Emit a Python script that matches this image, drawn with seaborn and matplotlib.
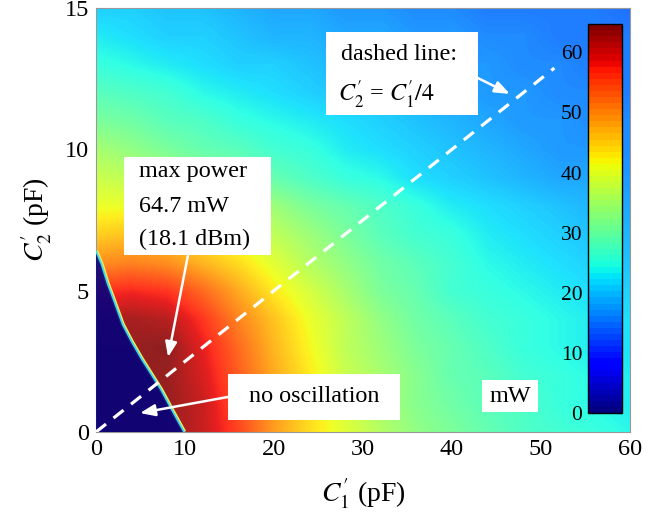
import numpy as np
import pandas as pd
import matplotlib
matplotlib.use("Agg")
import matplotlib.pyplot as plt
from matplotlib.patches import Rectangle
from matplotlib.cm import ScalarMappable
import seaborn as sns

# ---- data -----------------------------------------------------------------
# Grid of capacitances (pF)
c1_pf = [0, 4, 8, 12, 16, 20, 24, 28, 32, 36, 40, 44, 48, 52, 56, 60]
c2_pf = [0, 1, 2, 3, 4, 5, 6, 7, 8, 9, 10, 11, 12, 13, 14, 15]

# Output power (mW), one row per C2' value
p_c2_00 = [64, 64, 64, 61, 56, 49, 44, 40, 36, 33, 31, 29, 27, 26, 25, 24]
p_c2_01 = [64, 64, 64, 61, 55, 49, 44, 39, 35, 32, 30, 28, 27, 25, 24, 23]
p_c2_02 = [64, 64, 64, 60, 54, 48, 43, 38, 35, 32, 29, 28, 26, 25, 24, 23]
p_c2_03 = [64, 64, 64.7, 59, 53, 47, 42, 37, 34, 31, 29, 27, 25, 24, 23, 22]
p_c2_04 = [62, 63, 62, 57, 51, 46, 41, 37, 33, 30, 28, 26, 25, 24, 23, 22]
p_c2_05 = [57, 58, 57, 53, 48, 43, 39, 35, 31, 29, 26, 25, 24, 23, 22, 21]
p_c2_06 = [50, 51, 50, 47, 44, 40, 36, 33, 30, 28, 26, 24, 23, 22, 21, 20]
p_c2_07 = [45, 46, 45, 43, 40, 37, 34, 31, 28, 26, 25, 23, 22, 21, 20, 19]
p_c2_08 = [41, 41, 40, 38, 36, 34, 31, 29, 27, 25, 23, 22, 21, 20, 19, 18]
p_c2_09 = [38, 37, 35, 33, 31, 29, 27, 25, 24, 22, 21, 20, 19, 18, 18, 17]
p_c2_10 = [35, 33, 31, 29, 28, 26, 25, 23, 22, 21, 20, 19, 18, 17, 17, 16]
p_c2_11 = [31, 30, 28, 27, 25, 24, 23, 22, 21, 20, 19, 18, 17, 17, 16, 16]
p_c2_12 = [28, 27, 26, 24, 23, 22, 21, 20, 20, 19, 18, 17, 17, 16, 16, 15]
p_c2_13 = [25, 24, 23, 22, 21, 21, 20, 19, 19, 18, 17, 17, 16, 16, 15, 15]
p_c2_14 = [23, 22, 21, 21, 20, 19, 19, 18, 18, 17, 17, 16, 16, 15, 15, 15]
p_c2_15 = [21, 21, 20, 20, 19, 18, 18, 17, 17, 16, 16, 15, 15, 15, 15, 14]

# Edge of the region where the circuit does not oscillate
edge_c1 = [0, 0.6, 1.3, 1.9, 3.0, 4.0, 5.1, 6.2, 7.3, 8.5, 9.9]
edge_c2 = [6.4, 5.95, 5.25, 4.75, 3.8, 3.2, 2.6, 2.05, 1.5, 0.8, 0]

# Dashed reference line C2' = C1'/4
dash_c1 = [0, 51.5]
dash_c2 = [c / 4 for c in dash_c1]

peak_mw = 64.7
cbar_ticks = [0, 10, 20, 30, 40, 50, 60]
x_ticks = [0, 10, 20, 30, 40, 50, 60]
y_ticks = [0, 5, 10, 15]

rows = [p_c2_00, p_c2_01, p_c2_02, p_c2_03, p_c2_04, p_c2_05, p_c2_06, p_c2_07,
        p_c2_08, p_c2_09, p_c2_10, p_c2_11, p_c2_12, p_c2_13, p_c2_14, p_c2_15]
power = pd.DataFrame(rows, index=c2_pf, columns=c1_pf)

# ---- style ----------------------------------------------------------------
sns.set_style("white")
plt.rcParams["font.family"] = ["Liberation Serif", "DejaVu Serif"]
plt.rcParams["mathtext.fontset"] = "stix"
plt.rcParams["text.color"] = "black"

jet = plt.get_cmap("jet")
jet64 = jet.resampled(64)
vmax = float(power.values.max())
norm = plt.Normalize(0, vmax)
shade = 0.88  # mesh drawn slightly translucent over white

fig = plt.figure(figsize=(6.6, 5.12), dpi=100)
ax = fig.add_axes([96 / 660, 80 / 512, 534 / 660, 424 / 512])

dx = c1_pf[1] - c1_pf[0]
dy = c2_pf[1] - c2_pf[0]
im = ax.imshow(power.values, origin="lower", cmap=jet, norm=norm,
               extent=(c1_pf[0] - dx / 2, c1_pf[-1] + dx / 2,
                       c2_pf[0] - dy / 2, c2_pf[-1] + dy / 2),
               interpolation="bilinear", interpolation_stage="data",
               aspect="auto", alpha=shade, zorder=1)

# no-oscillation region
ax.plot(edge_c1, edge_c2, color="#f0f050", lw=3.2, zorder=2,
        solid_capstyle="butt")
ax.fill(edge_c1 + [0], edge_c2 + [0], color=jet(0), alpha=shade, lw=0,
        zorder=3)
ax.plot(edge_c1, edge_c2, color="#40d8f0", lw=1.3, zorder=4)

# dashed line
sns.lineplot(x=dash_c1, y=dash_c2, ax=ax, color="white", lw=2.3,
             linestyle=(0, (4, 3)), zorder=5)

ax.set_xlim(0, 60)
ax.set_ylim(0, 15)
ax.set_xticks(x_ticks)
ax.set_yticks(y_ticks)
ax.tick_params(direction="in", length=3, color="#888888", labelsize=17.5,
               labelcolor="black", pad=5)
for s in ax.spines.values():
    s.set_color("#999999")
    s.set_linewidth(0.8)

ax.set_xlabel(r"$C_1^{\prime}$ (pF)", fontsize=20, labelpad=12,
              color="black")
ax.set_ylabel(r"$C_2^{\prime}$ (pF)", fontsize=20, labelpad=8,
              color="black")

# ---- annotation boxes -----------------------------------------------------
txt = dict(fontsize=17.4, color="black", zorder=8)
arrow = dict(arrowstyle="-|>,head_length=0.9,head_width=0.35",
             color="white", lw=1.8, shrinkA=0, shrinkB=0)

ax.add_patch(Rectangle((3.15, 6.26), 16.5, 3.47, facecolor="white",
                       edgecolor="none", zorder=7))
ax.text(4.8, 9.2, "max power", ha="left", va="center", **txt)
ax.text(4.8, 7.98, f"{peak_mw} mW", ha="left", va="center", **txt)
ax.text(4.8, 6.8, f"({10 * np.log10(peak_mw):.1f} dBm)", ha="left",
        va="center", **txt)
ax.annotate("", xy=(8.1, 2.65), xytext=(10.34, 6.26), arrowprops=arrow,
            zorder=6)

ax.add_patch(Rectangle((14.83, 0.42), 19.33, 1.63, facecolor="white",
                       edgecolor="none", zorder=7))
ax.text(24.5, 1.24, "no oscillation", ha="center", va="center", **txt)
ax.annotate("", xy=(4.94, 0.67), xytext=(14.83, 1.24), arrowprops=arrow,
            zorder=6)

ax.add_patch(Rectangle((25.84, 11.21), 17.08, 2.94, facecolor="white",
                       edgecolor="none", zorder=7))
ax.text(27.5, 13.34, "dashed line:", ha="left", va="center", **txt)
ax.text(27.2, 11.92, r"$C_2^{\prime}$ = $C_1^{\prime}/4$", ha="left",
        va="center", **txt)
ax.annotate("", xy=(46.5, 11.96), xytext=(42.92, 12.52), arrowprops=arrow,
            zorder=6)

ax.add_patch(Rectangle((43.37, 0.71), 6.29, 1.13, facecolor="white",
                       edgecolor="none", zorder=7))
ax.text(46.5, 1.27, "mW", ha="center", va="center", **txt)

# ---- colorbar inside the axes --------------------------------------------
cax = ax.inset_axes([0.921, 0.045, 0.064, 0.917])
cax.set_zorder(9)
cb = fig.colorbar(ScalarMappable(norm=norm, cmap=jet64), cax=cax,
                  ticks=cbar_ticks)
cb.outline.set_edgecolor("black")
cb.outline.set_linewidth(1.0)
cax.yaxis.set_ticks_position("both")
cax.yaxis.set_label_position("left")
cax.tick_params(axis="y", direction="in", length=4, color="black",
                labelleft=True, labelright=False, labelsize=15.5,
                labelcolor="black", pad=4)

fig.savefig("out.png", dpi=100)
